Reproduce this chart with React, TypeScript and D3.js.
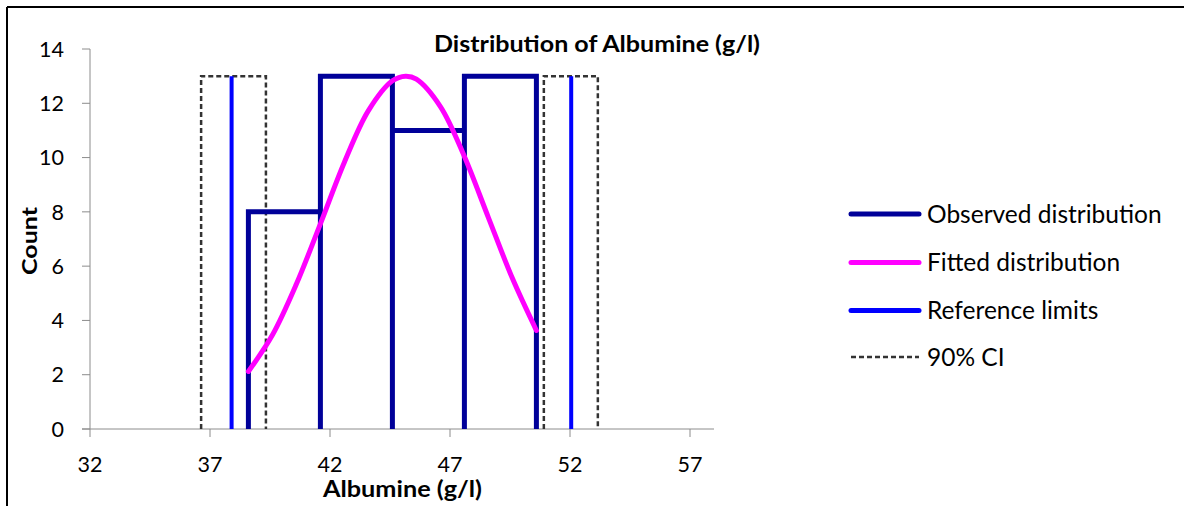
import React from "react";
import * as d3 from "d3";

// ---- data ----
const binEdges = [38.6, 41.6, 44.6, 47.6, 50.6];
const binCounts = [8, 13, 11, 13];
const fittedX = [38.6, 39.6, 40.6, 41.6, 42.6, 43.6, 44.6, 45.15, 45.6, 46.6, 47.6, 48.6, 49.6, 50.6];
const fittedY = [2.12, 3.46, 5.34, 7.56, 9.83, 11.73, 12.83, 13.0, 12.89, 11.88, 10.04, 7.79, 5.55, 3.63];
const refLimits = [37.9, 52.05];
const ciLow = [36.63, 39.33];
const ciHigh = [50.91, 53.16];
const ciTop = 13;
const xTicks = [32, 37, 42, 47, 52, 57];
const yTicks = [0, 2, 4, 6, 8, 10, 12, 14];
const legendItems = ["Observed distribution", "Fitted distribution", "Reference limits", "90% CI"];

const W = 1184;
const H = 506;
const FONT = "Lato, 'Open Sans', sans-serif";
const NAVY = "#000099";
const MAGENTA = "#FF00FF";
const BLUE = "#0000FF";
const AXIS = "#8c8c8c";
const CI = "#333333";

export default function App() {
  const x = d3.scaleLinear().domain([32, 58]).range([90, 714]);
  const y = d3.scaleLinear().domain([0, 14]).range([429, 49]);
  const line = d3.line<[number, number]>().x((d) => x(d[0])).y((d) => y(d[1]));

  // observed histogram outline
  const obs: [number, number][] = [];
  binCounts.forEach((c, i) => {
    const a = binEdges[i];
    const b = binEdges[i + 1];
    obs.push([a, 0], [a, c], [b, c], [b, 0]);
  });

  const fitted = d3
    .line<number>()
    .x((d, i) => x(fittedX[i]))
    .y((d) => y(d))
    .curve(d3.curveCatmullRom.alpha(0.5))(fittedY);

  const ciPath = (r: number[]) =>
    line([
      [r[0], 0],
      [r[0], ciTop],
      [r[1], ciTop],
      [r[1], 0],
    ]);

  const legendColors = [NAVY, MAGENTA, BLUE, CI];
  const legendY = [214, 262.5, 310.5, 357];

  return (
    <svg
      width={W}
      height={H}
      style={{ position: "absolute", left: 0, top: 0, background: "#fff" }}
      fontFamily={FONT}
    >
      {/* frame */}
      <line x1={7} y1={7} x2={W} y2={7} stroke="#000" strokeWidth={2} />
      <line x1={7} y1={7} x2={7} y2={H} stroke="#000" strokeWidth={2} />

      {/* axes */}
      <line x1={x(32)} y1={y(0)} x2={x(32)} y2={y(14)} stroke={AXIS} strokeWidth={1} />
      {yTicks.map((t) => (
        <g key={"yt" + t}>
          <line x1={82} x2={x(32)} y1={y(t)} y2={y(t)} stroke={AXIS} />
          <text x={64} y={y(t)} dy="0.36em" textAnchor="end" fontSize={21.5} fill="#000">
            {t}
          </text>
        </g>
      ))}
      <line x1={82} y1={y(0)} x2={714} y2={y(0)} stroke={AXIS} strokeWidth={1} />
      {xTicks.map((t) => (
        <g key={"xt" + t}>
          <line x1={x(t)} x2={x(t)} y1={429} y2={437} stroke={AXIS} />
          <text x={x(t)} y={471.5} textAnchor="middle" fontSize={21.5} fill="#000">
            {t}
          </text>
        </g>
      ))}

      {/* CI boxes */}
      <path d={ciPath(ciLow) || ""} fill="none" stroke={CI} strokeWidth={2.5} strokeDasharray="5,3" />
      <path d={ciPath(ciHigh) || ""} fill="none" stroke={CI} strokeWidth={2.5} strokeDasharray="5,3" />

      {/* reference limits */}
      {refLimits.map((r) => (
        <line key={"rl" + r} x1={x(r)} x2={x(r)} y1={y(0)} y2={y(13)} stroke={BLUE} strokeWidth={4} />
      ))}

      {/* observed */}
      <path d={line(obs) || ""} fill="none" stroke={NAVY} strokeWidth={5} strokeLinejoin="miter" />

      {/* fitted */}
      <path d={fitted || ""} fill="none" stroke={MAGENTA} strokeWidth={5} strokeLinecap="round" />

      {/* titles */}
      <text x={597} y={52} textAnchor="middle" fontSize={22} fontWeight="bold" textLength={326} lengthAdjust="spacingAndGlyphs">
        Distribution of Albumine (g/l)
      </text>
      <text x={402.5} y={497} textAnchor="middle" fontSize={22} fontWeight="bold" textLength={159} lengthAdjust="spacingAndGlyphs">
        Albumine (g/l)
      </text>
      <text
        transform="translate(37,241) rotate(-90)"
        textAnchor="middle"
        fontSize={21}
        fontWeight="bold"
        textLength={68}
        lengthAdjust="spacingAndGlyphs"
      >
        Count
      </text>

      {/* legend */}
      {legendItems.map((name, i) => (
        <g key={name}>
          <line
            x1={851}
            x2={919}
            y1={legendY[i]}
            y2={legendY[i]}
            stroke={legendColors[i]}
            strokeWidth={i === 3 ? 2.5 : 5}
            strokeDasharray={i === 3 ? "5,3" : undefined}
            strokeLinecap={i === 3 ? "butt" : "round"}
          />
          <text x={927} y={legendY[i]} dy="0.36em" fontSize={24.5} fill="#000">
            {name}
          </text>
        </g>
      ))}
    </svg>
  );
}
